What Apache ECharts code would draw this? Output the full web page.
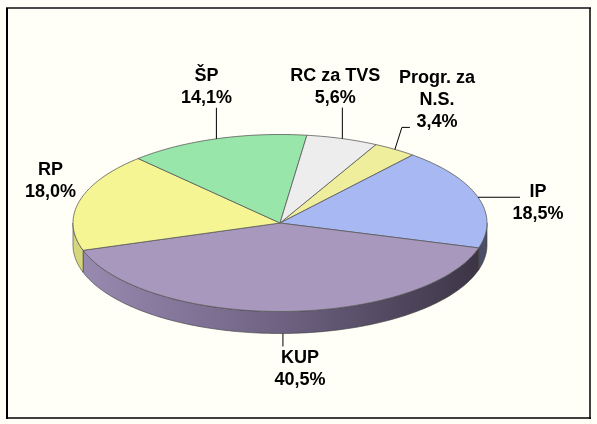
<!DOCTYPE html>
<html><head><meta charset="utf-8">
<script src="https://cdn.jsdelivr.net/npm/echarts@6/dist/echarts.min.js"></script>
<style>html,body{margin:0;padding:0;background:#fffff7;}#c{width:597px;height:424px;}</style>
</head><body><div id="c"></div>
<script>
// ---- data ----
const categories = ['Progr. za\nN.S.', 'IP', 'KUP', 'RP', 'ŠP', 'RC za TVS'];
const values = [3.4, 18.5, 40.5, 18.0, 14.1, 5.6];
const percentLabels = ['3,4%', '18,5%', '40,5%', '18,0%', '14,1%', '5,6%'];

// ---- style / layout ----
const topColors = ['#eeee9c', '#a7b8f2', '#a898be', '#f6f594', '#98e6a9', '#ededed'];
const sideColors = ['#c9c97c', '#4b4f66',
  {type:'linear', x:75, y:0, x2:486, y2:0, global:true,
   colorStops:[{offset:0,color:'#9a8bb2'},{offset:0.5,color:'#6e6282'},{offset:1,color:'#3a3343'}]},
  '#d6d67c', '#7fc08d', '#c8c8c8'];
const geo = {cx:280, cy:223, a:207, b:88.5, depth:22, startDeg:-62.4};
// label text centre and leader points relative to the rim anchor of each slice
const labelLayout = [
  {tx:42, ty:-49, leader:[[7,-22],[15,-22]], onSide:false},
  {tx:60, ty:6, leader:[[42,0]], onSide:false},
  {tx:17, ty:36, leader:[[0,13]], onSide:true},
  {tx:-29, ty:-20, leader:null, onSide:false},
  {tx:-10, ty:-52, leader:[[0,-31]], onSide:false},
  {tx:-7, ty:-52, leader:[[0,-31]], onSide:false}
];

const total = values.reduce((s,v)=>s+v,0);
const rad = d => d*Math.PI/180;
function rim(t, dy){ return [geo.cx + geo.a*Math.cos(rad(t)), geo.cy + geo.b*Math.sin(rad(t)) + (dy||0)]; }
function arc(t0, t1, dy){
  const pts=[]; const n=Math.max(2, Math.ceil(Math.abs(t1-t0)));
  for(let k=0;k<=n;k++){ pts.push(rim(t0+(t1-t0)*k/n, dy)); }
  return pts;
}

function renderItem(params, api){
  const i = params.dataIndex;
  let before = 0; for(let k=0;k<i;k++) before += values[k];
  const a0 = geo.startDeg + before/total*360;
  const a1 = a0 + api.value(1)/total*360;
  const children = [];
  for (const shift of [-360, 0, 360]) {
    const s = Math.max(a0+shift, 0), e = Math.min(a1+shift, 180);
    if (e > s) {
      const top = arc(s, e, 0);
      const bot = arc(e, s, geo.depth);
      children.push({type:'polygon', z2:1, shape:{points: top.concat(bot)},
        style:{fill: sideColors[i], stroke:'#3a3a3a', lineWidth:0.6}});
    }
  }
  const pts = [[geo.cx, geo.cy]].concat(arc(a0, a1, 0));
  children.push({type:'polygon', z2:10, shape:{points: pts},
    style:{fill: topColors[i], stroke:'#5a5a5a', lineWidth:0.8}});
  const mid = (a0+a1)/2;
  const L = labelLayout[i];
  const anc = rim(mid, L.onSide ? geo.depth : 0);
  if (L.leader) {
    const lp = [anc].concat(L.leader.map(p=>[anc[0]+p[0], anc[1]+p[1]]));
    children.push({type:'polyline', z2:20, shape:{points: lp}, style:{stroke:'#000', lineWidth:1, fill:null}});
  }
  children.push({type:'text', z2:20, x: anc[0]+L.tx, y: anc[1]+L.ty,
    style:{text: categories[i] + '\n' + percentLabels[i], fill:'#000', align:'center', verticalAlign:'middle',
      font:'bold 18px "Liberation Sans", Arial, sans-serif', lineHeight:22}});
  return {type:'group', children};
}

const chart = echarts.init(document.getElementById('c'), null, {renderer:'canvas'});
chart.setOption({
  backgroundColor:'#fffff7',
  animation:false,
  graphic:[
    {type:'line', shape:{x1:6, y1:8, x2:591, y2:8}, style:{stroke:'#4a4a4a', lineWidth:2}},
    {type:'line', shape:{x1:7, y1:8, x2:7, y2:419}, style:{stroke:'#000', lineWidth:2}},
    {type:'line', shape:{x1:590, y1:8, x2:590, y2:419}, style:{stroke:'#000', lineWidth:1.5}},
    {type:'line', shape:{x1:6, y1:418, x2:591, y2:418}, style:{stroke:'#000', lineWidth:1.5}}
  ],
  series:[{
    type:'custom', coordinateSystem:'none', renderItem,
    data: values.map((v,i)=>[i, v])
  }]
});
</script></body></html>
